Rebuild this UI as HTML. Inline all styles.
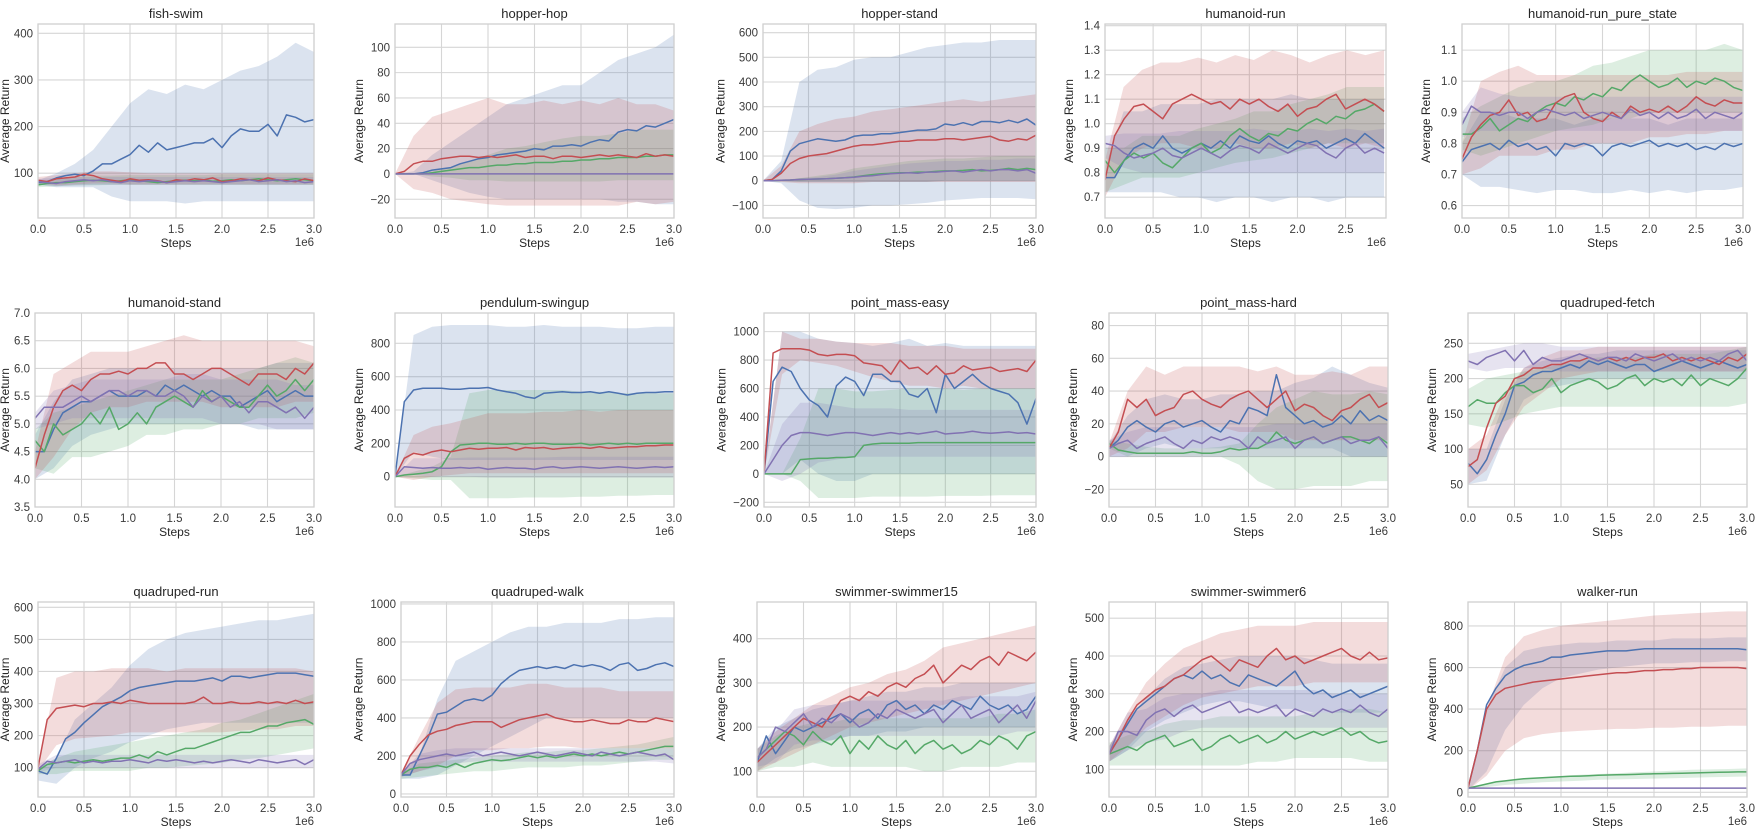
<!DOCTYPE html>
<html><head><meta charset="utf-8">
<style>
html,body{margin:0;padding:0;background:#fff;}
svg{display:block;font-family:"Liberation Sans",Arial,sans-serif;}
</style></head>
<body>
<svg id="fig" width="1758" height="830" viewBox="0 0 1758 830" xmlns="http://www.w3.org/2000/svg"></svg>
<script>
// ---------- shared tick data ----------
const xTickValues=[0,0.5,1.0,1.5,2.0,2.5,3.0];
const xTickLabels=['0.0','0.5','1.0','1.5','2.0','2.5','3.0'];

// ---------- fish-swim ----------
const fishYTicks=[100,200,300,400];
const fishBlue=[80,82,90,95,98,95,105,120,120,130,140,160,145,165,150,155,160,165,165,175,155,180,195,190,190,205,180,225,220,210,215];
const fishBlueLo=[75,70,70,70,50,40,40,40,35,40,40,40,40,40,40,40];
const fishBlueHi=[85,100,120,150,200,250,280,270,290,280,300,320,330,350,380,360];
const fishGreen=[75,78,80,80,82,84,85,84,82,84,86,84,82,80,82,84,85,84,86,83,84,86,84,86,88,86,84,86,88,86,84];
const fishGreenLo=[70,72,74,74,75,75,75,75,75,75,75,75,75,75,75,75];
const fishGreenHi=[82,88,92,95,95,96,96,96,96,96,98,98,98,98,98,98];
const fishRed=[85,82,88,90,92,98,95,88,85,82,88,85,86,84,80,86,84,88,86,90,82,84,88,86,84,90,86,84,82,88,84];
const fishRedLo=[78,74,76,78,78,76,76,76,76,76,76,76,76,76,76,76];
const fishRedHi=[92,96,100,104,104,102,100,100,100,100,100,100,100,100,100,100];
const fishPurple=[82,80,78,82,84,86,84,86,82,80,84,82,84,83,80,82,84,82,84,82,80,82,84,86,82,84,86,82,84,80,82];
const fishPurpleLo=[76,72,74,75,75,75,75,75,75,75,75,75,75,75,75,75];
const fishPurpleHi=[88,90,92,92,92,92,92,92,92,92,92,92,92,92,92,92];

// ---------- hopper-hop ----------
const hopYTicks=[-20,0,20,40,60,80,100];
const hopBlue=[0,0,0,1,3,4,5,8,10,12,13,15,16,17,18,20,19,22,22,23,22,25,27,26,33,35,34,38,37,40,43];
const hopBlueLo=[0,0,-5,-10,-15,-18,-20,-20,-20,-20,-20,-20,-22,-22,-24,-24];
const hopBlueHi=[0,2,15,25,35,45,55,60,65,70,70,80,90,95,100,110];
const hopGreen=[0,0,0,0,1,2,3,4,5,5,6,7,7,8,8,9,9,9,10,10,11,11,12,12,13,13,13,14,14,15,15];
const hopGreenLo=[0,0,-2,-3,-5,-5,-6,-6,-6,-6,-6,-6,-5,-5,-5,-5];
const hopGreenHi=[0,0,2,5,10,15,20,22,25,28,30,30,32,35,35,35];
const hopRed=[0,2,8,10,10,12,13,14,14,13,14,13,14,15,13,14,14,12,14,14,13,14,15,14,15,14,13,16,14,15,14];
const hopRedLo=[0,-12,-15,-20,-22,-24,-25,-25,-25,-25,-25,-25,-25,-22,-24,-22];
const hopRedHi=[0,30,45,50,55,60,55,55,58,55,58,55,60,55,55,50];
const hopPurple=[0,0,0,0,0,0,0,0,0,0,0,0,0,0,0,0,0,0,0,0,0,0,0,0,0,0,0,0,0,0,0];
const hopPurpleLo=[0,0,0,0,0,0,0,0,0,0,0,0,0,0,0,0];
const hopPurpleHi=[0,0,0,0,0,0,0,0,0,0,0,0,0,0,0,0];

// ---------- hopper-stand ----------
const standYTicks=[-100,0,100,200,300,400,500,600];
const standBlue=[0,5,40,120,150,160,170,165,160,165,180,185,185,190,190,195,200,205,205,210,230,225,235,225,240,240,235,245,235,250,225];
const standBlueLo=[0,-10,-80,-110,-115,-110,-100,-100,-95,-90,-80,-75,-70,-70,-70,-75];
const standBlueHi=[0,80,400,450,460,490,500,500,520,540,550,560,560,570,570,570];
const standGreen=[0,0,2,3,5,6,7,8,10,12,15,20,25,28,30,32,32,35,35,38,40,40,42,45,40,42,45,50,45,50,45];
const standGreenLo=[0,-2,-5,-5,-5,-5,-5,-5,-5,-5,0,0,0,0,0,0];
const standGreenHi=[0,2,10,20,30,50,60,70,80,85,90,90,95,100,100,100];
const standRed=[0,5,30,70,90,100,105,110,120,130,140,145,145,150,155,160,160,165,165,165,170,170,165,170,175,180,165,160,170,165,185];
const standRedLo=[0,-5,-10,-10,-10,-10,-5,-5,-5,-5,-5,-5,-5,-5,-5,-5];
const standRedHi=[0,60,200,230,250,260,280,290,300,310,320,330,320,330,340,350];
const standPurple=[0,0,2,3,5,6,7,8,10,12,14,18,20,25,28,30,32,30,35,35,38,40,35,40,45,40,45,45,40,45,30];
const standPurpleLo=[0,-2,-5,-5,-5,-5,-5,-5,-5,-5,0,0,0,0,0,0];
const standPurpleHi=[0,2,10,15,25,40,50,60,70,75,80,80,85,85,90,90];

// ---------- humanoid-run ----------
const hrunYTicks=[0.7,0.8,0.9,1.0,1.1,1.2,1.3,1.4];
const hrunBlue=[0.78,0.78,0.85,0.90,0.92,0.90,0.95,0.90,0.88,0.90,0.92,0.90,0.93,0.90,0.95,0.93,0.92,0.95,0.92,0.90,0.93,0.92,0.93,0.90,0.92,0.94,0.92,0.96,0.93,0.90];
const hrunBlueLo=[0.72,0.72,0.72,0.72,0.70,0.70,0.68,0.70,0.70,0.68,0.70,0.70,0.68,0.70,0.70,0.70];
const hrunBlueHi=[0.82,1.05,1.05,1.08,1.08,1.08,1.10,1.10,1.10,1.10,1.12,1.10,1.10,1.10,1.10,1.10];
const hrunGreen=[0.85,0.80,0.85,0.88,0.86,0.88,0.84,0.82,0.86,0.90,0.92,0.88,0.90,0.95,0.98,0.95,0.93,0.96,0.95,0.98,0.97,1.00,1.02,1.00,1.03,1.02,1.05,1.06,1.08,1.05];
const hrunGreenLo=[0.72,0.75,0.78,0.78,0.78,0.80,0.82,0.84,0.85,0.86,0.88,0.90,0.92,0.92,0.92,0.92];
const hrunGreenHi=[0.90,0.90,0.95,0.95,0.95,0.98,1.00,1.02,1.05,1.05,1.08,1.10,1.12,1.15,1.15,1.15];
const hrunRed=[0.77,0.95,1.02,1.07,1.08,1.05,1.02,1.08,1.10,1.12,1.10,1.08,1.09,1.06,1.10,1.08,1.10,1.07,1.05,1.08,1.03,1.06,1.07,1.10,1.12,1.06,1.08,1.10,1.08,1.05];
const hrunRedLo=[0.70,0.85,0.90,0.92,0.92,0.90,0.90,0.92,0.90,0.90,0.92,0.90,0.92,0.90,0.92,0.90];
const hrunRedHi=[0.85,1.15,1.22,1.25,1.25,1.27,1.25,1.28,1.26,1.30,1.28,1.25,1.28,1.30,1.28,1.30];
const hrunPurple=[0.92,0.91,0.88,0.86,0.87,0.88,0.90,0.87,0.86,0.88,0.90,0.88,0.86,0.89,0.91,0.90,0.88,0.92,0.90,0.88,0.90,0.92,0.91,0.88,0.86,0.90,0.92,0.88,0.90,0.88];
const hrunPurpleLo=[0.86,0.82,0.80,0.80,0.80,0.80,0.80,0.80,0.80,0.80,0.80,0.80,0.80,0.80,0.80,0.80];
const hrunPurpleHi=[0.95,0.96,0.96,0.96,0.97,0.97,0.97,0.97,0.98,0.97,0.97,0.98,0.97,0.98,0.97,0.98];

// ---------- humanoid-run_pure_state ----------
const hpureYTicks=[0.6,0.7,0.8,0.9,1.0,1.1];
const hpureBlue=[0.74,0.78,0.79,0.80,0.78,0.81,0.79,0.80,0.78,0.79,0.76,0.80,0.79,0.80,0.79,0.76,0.79,0.80,0.79,0.80,0.81,0.79,0.80,0.79,0.80,0.78,0.79,0.78,0.80,0.79,0.80];
const hpureBlueLo=[0.70,0.66,0.66,0.65,0.64,0.65,0.65,0.64,0.64,0.65,0.64,0.65,0.64,0.65,0.65,0.66];
const hpureBlueHi=[0.80,0.90,0.90,0.88,0.88,0.88,0.86,0.88,0.88,0.88,0.88,0.86,0.88,0.88,0.88,0.88];
const hpureGreen=[0.83,0.83,0.85,0.88,0.84,0.86,0.88,0.87,0.90,0.92,0.93,0.92,0.95,0.94,0.96,0.95,0.98,0.97,1.00,1.02,1.00,0.98,0.99,1.01,0.98,1.00,0.99,1.01,1.00,0.98,0.97];
const hpureGreenLo=[0.78,0.76,0.78,0.80,0.82,0.84,0.85,0.86,0.88,0.88,0.90,0.90,0.90,0.90,0.90,0.90];
const hpureGreenHi=[0.88,0.92,0.95,0.98,1.00,1.00,1.02,1.05,1.06,1.08,1.10,1.10,1.10,1.10,1.12,1.10];
const hpureRed=[0.75,0.82,0.86,0.89,0.90,0.94,0.89,0.90,0.87,0.88,0.93,0.95,0.96,0.90,0.88,0.87,0.90,0.88,0.92,0.90,0.91,0.90,0.92,0.90,0.92,0.95,0.93,0.92,0.94,0.93,0.93];
const hpureRedLo=[0.70,0.72,0.76,0.76,0.76,0.78,0.78,0.80,0.80,0.80,0.82,0.82,0.83,0.83,0.84,0.84];
const hpureRedHi=[0.80,1.00,1.03,1.05,1.02,1.02,1.02,1.02,1.02,1.02,1.02,1.02,1.03,1.03,1.03,1.03];
const hpurePurple=[0.86,0.92,0.90,0.90,0.89,0.90,0.90,0.88,0.90,0.91,0.90,0.89,0.90,0.88,0.89,0.90,0.89,0.88,0.91,0.89,0.90,0.88,0.90,0.88,0.89,0.91,0.88,0.90,0.89,0.88,0.90];
const hpurePurpleLo=[0.82,0.84,0.84,0.84,0.84,0.84,0.84,0.84,0.84,0.84,0.84,0.84,0.84,0.84,0.84,0.84];
const hpurePurpleHi=[0.90,0.98,0.96,0.95,0.95,0.95,0.95,0.95,0.95,0.95,0.95,0.95,0.95,0.95,0.95,0.95];

// ---------- humanoid-stand ----------
const hstandYTicks=[3.5,4.0,4.5,5.0,5.5,6.0,6.5,7.0];
const hstandBlue=[4.5,4.5,4.9,5.2,5.3,5.4,5.4,5.5,5.6,5.5,5.5,5.5,5.6,5.5,5.7,5.6,5.7,5.6,5.5,5.6,5.5,5.5,5.3,5.4,5.5,5.6,5.4,5.5,5.6,5.5,5.5];
const hstandBlueLo=[4.0,4.2,4.6,4.8,4.9,5.0,5.0,5.0,5.0,5.0,5.0,5.0,4.9,4.9,4.9,4.9];
const hstandBlueHi=[4.8,5.4,5.8,5.9,6.0,6.0,6.0,6.0,6.0,6.0,6.0,6.0,6.0,6.1,6.1,6.1];
const hstandGreen=[4.7,4.5,5.0,4.8,4.9,5.0,5.2,5.0,5.3,4.9,5.0,5.2,5.0,5.3,5.4,5.5,5.4,5.3,5.6,5.4,5.5,5.4,5.3,5.3,5.5,5.7,5.5,5.6,5.8,5.6,5.8];
const hstandGreenLo=[4.2,4.1,4.4,4.4,4.5,4.6,4.8,4.8,4.9,4.9,5.0,5.0,5.1,5.1,5.1,5.2];
const hstandGreenHi=[4.9,5.2,5.3,5.4,5.5,5.6,5.7,5.8,5.8,5.8,5.8,5.9,6.0,6.1,6.2,6.1];
const hstandRed=[4.2,4.8,5.3,5.6,5.7,5.6,5.8,5.9,5.9,5.95,5.9,6.0,6.0,6.1,6.1,5.9,5.9,5.8,5.9,6.0,6.0,5.9,5.8,5.7,5.9,5.9,5.9,5.8,6.0,5.9,6.1];
const hstandRedLo=[4.0,4.4,4.9,5.2,5.3,5.3,5.4,5.4,5.4,5.4,5.3,5.3,5.3,5.3,5.4,5.4];
const hstandRedHi=[4.5,5.9,6.1,6.3,6.3,6.3,6.4,6.5,6.6,6.5,6.5,6.5,6.5,6.5,6.5,6.4];
const hstandPurple=[5.1,5.3,5.3,5.3,5.4,5.5,5.4,5.5,5.6,5.6,5.5,5.6,5.6,5.5,5.5,5.6,5.5,5.3,5.5,5.4,5.5,5.3,5.4,5.2,5.4,5.4,5.3,5.2,5.3,5.1,5.3];
const hstandPurpleLo=[4.9,5.0,5.1,5.1,5.1,5.1,5.1,5.1,5.1,5.1,5.0,5.0,5.0,4.9,4.9,4.9];
const hstandPurpleHi=[5.2,5.6,5.7,5.8,5.8,5.8,5.8,5.8,5.9,5.9,5.8,5.8,5.8,5.8,5.7,5.7];

// ---------- pendulum-swingup ----------
const pendYTicks=[0,200,400,600,800];
const pendBlue=[0,450,520,530,530,530,525,525,530,530,535,520,510,500,480,470,500,505,510,505,505,510,500,510,500,490,500,505,505,510,510];
const pendBlueLo=[0,150,120,100,100,100,100,100,100,100,100,100,100,100,100,100];
const pendBlueHi=[0,850,900,910,910,910,900,900,910,900,900,900,890,890,900,900];
const pendGreen=[0,10,15,20,30,60,150,190,195,200,200,195,195,200,195,200,200,195,195,195,200,190,195,200,195,200,195,200,200,200,200];
const pendGreenLo=[0,-10,-20,-20,-130,-130,-130,-125,-125,-125,-120,-120,-115,-115,-110,-110];
const pendGreenHi=[0,30,60,120,500,520,520,520,520,520,510,510,500,500,500,500];
const pendRed=[0,110,140,130,150,160,150,160,170,165,170,170,175,160,175,170,175,165,170,175,175,170,180,170,175,180,180,185,185,190,190];
const pendRedLo=[0,-20,0,10,20,20,20,20,20,20,20,20,20,20,20,20];
const pendRedHi=[0,250,300,320,350,380,380,380,390,390,400,390,400,400,400,400];
const pendPurple=[0,60,55,50,55,50,50,55,50,55,45,50,55,50,50,45,55,60,50,55,60,55,50,55,60,55,50,55,60,55,60];
const pendPurpleLo=[0,10,0,0,0,-5,-5,-5,-5,-5,-5,-5,-5,-5,-5,-5];
const pendPurpleHi=[0,110,110,110,115,115,115,115,115,120,120,120,120,120,120,120];

// ---------- point_mass-easy ----------
const pmEasyYTicks=[-200,0,200,400,600,800,1000];
const pmEasyBlue=[0,650,750,720,600,520,480,400,620,680,650,550,700,700,650,650,560,540,600,430,700,600,650,700,640,600,580,560,500,350,530];
const pmEasyBlueLo=[0,0,100,0,-50,-50,0,0,0,0,0,0,0,0,0,0];
const pmEasyBlueHi=[0,1000,1000,950,930,920,900,920,950,900,920,900,900,900,900,900];
const pmEasyGreen=[0,0,0,0,100,105,110,110,115,115,120,200,210,215,215,215,215,220,220,220,220,220,220,220,220,220,220,220,220,220,220];
const pmEasyGreenLo=[0,0,-50,-170,-170,-170,-160,-160,-160,-160,-155,-155,-155,-150,-150,-150];
const pmEasyGreenHi=[0,0,250,600,600,580,580,590,600,600,600,590,600,600,600,600];
const pmEasyRed=[0,850,880,880,880,870,840,830,840,840,830,780,770,760,700,800,740,750,700,760,700,710,760,730,740,750,720,730,740,720,800];
const pmEasyRedLo=[0,700,800,780,760,720,680,650,620,620,600,620,600,600,600,600];
const pmEasyRedHi=[0,1000,950,950,930,920,920,920,900,900,900,880,880,880,880,880];
const pmEasyPurple=[0,100,200,270,290,290,280,270,280,290,290,280,270,280,290,280,290,280,290,300,280,285,290,300,290,285,290,295,285,290,280];
const pmEasyPurpleLo=[0,-50,0,80,100,120,120,120,120,120,120,120,120,120,120,120];
const pmEasyPurpleHi=[0,350,500,500,480,460,460,460,450,450,450,450,450,450,450,450];

// ---------- point_mass-hard ----------
const pmHardYTicks=[-20,0,20,40,60,80];
const pmHardBlue=[5,10,18,22,18,15,20,22,18,20,22,18,15,22,20,30,28,25,50,30,25,20,22,18,20,25,20,28,22,25,22];
const pmHardBlueLo=[0,0,5,8,5,5,5,5,5,5,5,5,5,0,0,0];
const pmHardBlueHi=[8,25,35,38,35,35,38,38,40,40,45,48,55,50,45,42];
const pmHardGreen=[8,4,3,2,2,2,2,2,2,3,2,2,3,5,4,5,5,8,15,10,8,10,12,8,10,12,12,10,8,12,8];
const pmHardGreenLo=[5,0,0,0,0,0,0,-5,-15,-20,-20,-18,-18,-18,-15,-15];
const pmHardGreenHi=[10,8,6,5,5,5,6,8,20,30,35,40,38,38,40,38];
const pmHardRed=[5,15,35,30,35,25,28,30,38,40,35,32,30,35,38,40,35,30,35,40,28,32,30,25,22,28,30,35,38,30,33];
const pmHardRedLo=[0,5,15,15,18,18,18,15,15,15,10,10,10,10,10,10];
const pmHardRedHi=[8,40,55,50,55,55,55,55,52,55,50,50,52,50,55,55];
const pmHardPurple=[5,8,10,5,8,10,12,8,5,10,8,12,10,12,10,5,12,8,10,12,5,10,12,8,10,12,8,10,10,12,5];
const pmHardPurpleLo=[0,0,0,0,0,0,0,0,0,0,0,0,0,0,0,0];
const pmHardPurpleHi=[10,15,18,18,18,18,18,18,18,20,20,20,20,20,20,20];

// ---------- quadruped-fetch ----------
const qFetchYTicks=[50,100,150,200,250];
const qFetchBlue=[80,65,85,120,150,190,195,205,210,210,215,220,215,225,220,225,220,215,220,220,210,215,220,225,220,215,220,225,220,215,220];
const qFetchBlueLo=[50,55,120,170,185,190,195,200,200,200,200,200,200,200,200,200];
const qFetchBlueHi=[100,100,170,215,225,230,235,235,240,240,240,240,240,240,240,240];
const qFetchGreen=[160,170,165,165,180,190,190,180,185,200,180,190,195,200,195,185,190,200,205,190,200,195,200,190,205,190,200,195,190,200,215];
const qFetchGreenLo=[135,130,140,150,155,160,160,160,160,160,160,160,160,160,160,165];
const qFetchGreenHi=[185,200,205,210,215,220,225,230,230,230,235,235,235,235,240,245];
const qFetchRed=[75,85,130,165,175,200,205,215,215,220,220,225,225,230,225,230,225,230,225,230,230,235,225,230,225,230,225,220,230,225,235];
const qFetchRedLo=[50,70,120,160,180,200,205,210,210,210,210,210,210,210,210,210];
const qFetchRedHi=[100,120,180,215,230,240,240,245,245,245,245,245,245,245,245,245];
const qFetchPurple=[225,220,230,235,240,225,240,220,230,225,225,230,235,230,225,230,230,225,235,230,225,230,235,225,230,225,230,225,235,240,225];
const qFetchPurpleLo=[215,210,215,215,215,210,210,210,210,210,210,210,210,210,210,210];
const qFetchPurpleHi=[235,240,245,250,250,245,245,245,245,245,245,245,245,245,245,245];

// ---------- quadruped-run ----------
const qRunYTicks=[100,200,300,400,500,600];
const qRunBlue=[90,80,130,190,210,240,265,290,305,320,340,350,355,360,365,370,370,370,375,380,370,385,385,380,385,390,395,395,395,390,385];
const qRunBlueLo=[60,50,100,130,150,180,200,220,230,240,240,240,240,240,240,240];
const qRunBlueHi=[100,130,250,300,350,420,470,500,520,530,540,550,560,560,570,580];
const qRunGreen=[90,110,115,120,115,120,125,120,125,130,130,140,130,150,140,150,160,160,170,180,190,200,210,210,220,230,230,240,245,250,235];
const qRunGreenLo=[80,80,90,90,90,90,100,100,105,110,115,125,130,140,150,160];
const qRunGreenHi=[100,130,150,160,170,180,190,200,210,220,240,250,270,290,310,330];
const qRunRed=[100,250,285,290,295,290,300,300,305,300,310,305,300,300,300,300,300,305,320,300,300,305,300,300,305,300,305,300,310,300,305];
const qRunRedLo=[90,170,190,195,200,210,210,210,210,210,210,215,220,220,230,230];
const qRunRedHi=[100,380,400,400,410,410,410,400,410,410,410,410,410,410,410,400];
const qRunPurple=[95,120,115,120,125,115,120,115,120,120,125,120,115,125,120,125,120,115,120,115,120,125,120,115,125,120,115,120,125,110,125];
const qRunPurpleLo=[85,100,100,100,100,100,100,100,100,100,100,100,100,100,100,100];
const qRunPurpleHi=[110,140,140,140,140,140,140,140,140,140,140,140,140,140,140,140];

// ---------- quadruped-walk ----------
const qWalkYTicks=[0,200,400,600,800,1000];
const qWalkBlue=[100,100,200,300,420,430,460,490,500,490,520,580,620,650,660,670,660,670,660,680,670,680,670,650,680,690,650,660,680,690,670];
const qWalkBlueLo=[80,80,100,150,200,250,300,350,400,400,400,400,400,400,400,400];
const qWalkBlueHi=[100,200,500,700,750,800,850,880,880,900,900,900,920,920,930,930];
const qWalkGreen=[100,130,140,140,150,140,160,140,160,170,180,175,180,190,200,190,200,190,200,210,200,210,200,210,220,210,220,230,240,250,250];
const qWalkGreenLo=[80,90,100,110,120,120,130,140,140,140,150,150,160,170,180,180];
const qWalkGreenHi=[110,160,170,180,190,200,210,220,220,230,230,240,250,260,280,300];
const qWalkRed=[100,200,260,310,330,340,360,370,380,380,380,350,370,390,400,410,420,400,390,380,380,390,380,370,370,390,380,380,400,390,380];
const qWalkRedLo=[90,120,150,200,230,230,240,240,250,250,240,240,240,240,240,240];
const qWalkRedHi=[110,300,480,550,560,560,560,580,580,560,560,560,540,540,540,540];
const qWalkPurple=[100,160,180,190,200,210,200,210,220,200,210,220,210,200,210,220,210,200,210,220,210,200,220,210,200,210,220,210,200,210,180];
const qWalkPurpleLo=[90,120,140,160,170,170,170,170,170,170,170,170,170,170,170,160];
const qWalkPurpleHi=[110,210,230,240,240,240,240,240,240,240,240,240,240,240,240,240];

// ---------- swimmer-swimmer15 ----------
const sw15YTicks=[100,200,300,400];
const sw15Blue=[120,180,140,170,200,190,200,210,220,230,210,230,240,220,250,260,240,250,230,250,240,260,250,240,270,250,240,250,230,240,270];
const sw15BlueLo=[100,130,150,160,170,180,180,190,190,200,200,200,200,200,200,200];
const sw15BlueHi=[150,200,220,240,250,260,270,280,280,290,290,300,300,300,300,300];
const sw15Green=[130,150,170,190,180,160,190,170,160,180,140,170,150,180,160,150,170,140,160,170,150,160,140,150,170,160,180,170,150,180,190];
const sw15GreenLo=[100,110,110,120,110,110,110,110,110,100,100,110,110,110,120,120];
const sw15GreenHi=[150,180,200,210,210,220,220,220,220,220,220,220,220,230,230,240];
const sw15Red=[120,140,160,180,200,220,210,200,230,260,270,260,280,270,290,300,290,310,320,340,300,320,340,330,350,360,340,370,360,350,370];
const sw15RedLo=[100,120,140,160,180,200,210,220,230,240,250,260,270,280,290,300];
const sw15RedHi=[150,190,220,250,270,290,300,320,330,350,380,390,400,410,420,430];
const sw15Purple=[130,150,200,190,210,230,200,220,210,230,220,200,210,230,220,240,230,220,230,240,210,230,250,220,230,240,210,230,250,220,260];
const sw15PurpleLo=[110,120,160,170,170,180,180,180,180,180,180,180,180,180,190,190];
const sw15PurpleHi=[150,190,240,250,250,260,260,260,260,260,260,270,270,270,270,280];

// ---------- swimmer-swimmer6 ----------
const sw6YTicks=[100,200,300,400,500];
const sw6Blue=[140,180,220,260,280,300,320,340,350,340,360,340,350,330,320,350,340,330,320,340,360,320,300,310,290,300,310,290,300,310,320];
const sw6BlueLo=[120,150,200,230,250,270,280,280,270,260,260,250,250,250,250,250];
const sw6BlueHi=[160,230,290,340,370,380,390,400,400,400,400,390,380,380,380,380];
const sw6Green=[140,150,160,150,170,180,190,160,170,180,150,160,180,190,170,180,190,170,180,200,180,190,200,190,200,210,190,200,180,170,175];
const sw6GreenLo=[110,110,110,110,110,110,110,110,120,120,130,130,130,130,120,120];
const sw6GreenHi=[170,190,200,220,230,230,240,240,240,240,240,250,250,260,260,250];
const sw6Red=[140,180,230,270,290,310,320,340,350,370,390,400,380,360,390,380,370,400,420,390,400,380,390,400,410,420,400,390,410,390,395];
const sw6RedLo=[120,160,210,240,270,290,300,310,320,320,320,330,330,330,330,330];
const sw6RedHi=[160,250,330,380,420,440,460,470,480,480,480,490,490,490,490,490];
const sw6Purple=[140,200,200,190,230,250,260,240,260,270,250,260,270,280,250,260,250,260,270,240,260,250,240,260,250,260,250,270,250,240,260];
const sw6PurpleLo=[120,150,170,180,200,210,210,210,210,210,210,210,210,210,210,210];
const sw6PurpleHi=[160,250,260,290,300,300,310,310,310,310,310,310,300,300,300,300];

// ---------- walker-run ----------
const wRunYTicks=[0,200,400,600,800];
const wRunBlue=[20,200,420,500,560,590,610,620,630,650,650,660,665,670,675,680,680,680,685,690,690,690,690,690,690,690,690,690,690,690,685];
const wRunBlueLo=[10,100,300,420,500,550,570,590,600,610,620,620,625,625,630,630];
const wRunBlueHi=[30,400,600,680,700,710,720,720,730,730,730,740,740,740,745,745];
const wRunGreen=[20,30,40,50,55,60,65,68,70,72,75,77,78,80,82,83,84,85,86,88,89,90,91,92,93,94,95,96,97,98,98];
const wRunGreenLo=[15,25,35,42,48,52,56,60,62,64,66,68,70,72,74,76];
const wRunGreenHi=[25,40,55,65,72,78,84,88,92,96,100,104,108,110,112,115];
const wRunRed=[20,200,400,470,500,510,520,530,535,540,545,550,555,560,565,570,575,575,580,585,585,590,590,595,595,600,600,600,600,600,595];
const wRunRedLo=[10,80,200,260,280,290,295,300,305,305,310,310,315,315,320,320];
const wRunRedHi=[30,400,650,750,780,800,810,820,830,840,850,855,860,865,870,870];
const wRunPurple=[20,20,20,20,20,20,20,20,20,20,20,20,20,20,20,20,20,20,20,20,20,20,20,20,20,20,20,20,20,20,20];
const wRunPurpleLo=[17,17,17,17,17,17,17,17,17,17,17,17,17,17,17,17];
const wRunPurpleHi=[23,23,23,23,23,23,23,23,23,23,23,23,23,23,23,23];

// ---------- layout (not data) ----------
const ROWS=[[24,218],[313,507],[602,797]];
const STEP=0.1;
const COLORS={Blue:'#4c72b0',Green:'#55a868',Red:'#c44e52',Purple:'#8172b2'};
const ORDER=['Blue','Green','Red','Purple'];
const panels=[
 {id:'fish',title:'fish-swim',row:0,x0:38,x1:314,ymin:4,ymax:420,xmax:3.0,dec:0,yt:fishYTicks,
  s:{Blue:[fishBlue,fishBlueLo,fishBlueHi],Green:[fishGreen,fishGreenLo,fishGreenHi],Red:[fishRed,fishRedLo,fishRedHi],Purple:[fishPurple,fishPurpleLo,fishPurpleHi]}},
 {id:'hop',title:'hopper-hop',row:0,x0:395,x1:674,ymin:-34.8,ymax:118.4,xmax:3.0,dec:0,yt:hopYTicks,
  s:{Blue:[hopBlue,hopBlueLo,hopBlueHi],Green:[hopGreen,hopGreenLo,hopGreenHi],Red:[hopRed,hopRedLo,hopRedHi],Purple:[hopPurple,hopPurpleLo,hopPurpleHi]}},
 {id:'stand',title:'hopper-stand',row:0,x0:763,x1:1036,ymin:-151,ymax:635,xmax:3.0,dec:0,yt:standYTicks,
  s:{Blue:[standBlue,standBlueLo,standBlueHi],Green:[standGreen,standGreenLo,standGreenHi],Red:[standRed,standRedLo,standRedHi],Purple:[standPurple,standPurpleLo,standPurpleHi]}},
 {id:'hrun',title:'humanoid-run',row:0,x0:1105,x1:1386,ymin:0.615,ymax:1.407,xmax:2.92,dec:1,yt:hrunYTicks,
  s:{Blue:[hrunBlue,hrunBlueLo,hrunBlueHi],Green:[hrunGreen,hrunGreenLo,hrunGreenHi],Red:[hrunRed,hrunRedLo,hrunRedHi],Purple:[hrunPurple,hrunPurpleLo,hrunPurpleHi]}},
 {id:'hpure',title:'humanoid-run_pure_state',row:0,x0:1462,x1:1743,ymin:0.56,ymax:1.184,xmax:3.0,dec:1,yt:hpureYTicks,
  s:{Blue:[hpureBlue,hpureBlueLo,hpureBlueHi],Green:[hpureGreen,hpureGreenLo,hpureGreenHi],Red:[hpureRed,hpureRedLo,hpureRedHi],Purple:[hpurePurple,hpurePurpleLo,hpurePurpleHi]}},
 {id:'hstand',title:'humanoid-stand',row:1,x0:35,x1:314,ymin:3.5,ymax:7.0,xmax:3.0,dec:1,yt:hstandYTicks,
  s:{Blue:[hstandBlue,hstandBlueLo,hstandBlueHi],Green:[hstandGreen,hstandGreenLo,hstandGreenHi],Red:[hstandRed,hstandRedLo,hstandRedHi],Purple:[hstandPurple,hstandPurpleLo,hstandPurpleHi]}},
 {id:'pend',title:'pendulum-swingup',row:1,x0:395,x1:674,ymin:-182,ymax:982,xmax:3.0,dec:0,yt:pendYTicks,
  s:{Blue:[pendBlue,pendBlueLo,pendBlueHi],Green:[pendGreen,pendGreenLo,pendGreenHi],Red:[pendRed,pendRedLo,pendRedHi],Purple:[pendPurple,pendPurpleLo,pendPurpleHi]}},
 {id:'pmEasy',title:'point_mass-easy',row:1,x0:764,x1:1036,ymin:-233,ymax:1131,xmax:3.0,dec:0,yt:pmEasyYTicks,
  s:{Blue:[pmEasyBlue,pmEasyBlueLo,pmEasyBlueHi],Green:[pmEasyGreen,pmEasyGreenLo,pmEasyGreenHi],Red:[pmEasyRed,pmEasyRedLo,pmEasyRedHi],Purple:[pmEasyPurple,pmEasyPurpleLo,pmEasyPurpleHi]}},
 {id:'pmHard',title:'point_mass-hard',row:1,x0:1109,x1:1388,ymin:-30.8,ymax:87.7,xmax:3.0,dec:0,yt:pmHardYTicks,
  s:{Blue:[pmHardBlue,pmHardBlueLo,pmHardBlueHi],Green:[pmHardGreen,pmHardGreenLo,pmHardGreenHi],Red:[pmHardRed,pmHardRedLo,pmHardRedHi],Purple:[pmHardPurple,pmHardPurpleLo,pmHardPurpleHi]}},
 {id:'qFetch',title:'quadruped-fetch',row:1,x0:1468,x1:1747,ymin:17.8,ymax:293,xmax:3.0,dec:0,yt:qFetchYTicks,
  s:{Blue:[qFetchBlue,qFetchBlueLo,qFetchBlueHi],Green:[qFetchGreen,qFetchGreenLo,qFetchGreenHi],Red:[qFetchRed,qFetchRedLo,qFetchRedHi],Purple:[qFetchPurple,qFetchPurpleLo,qFetchPurpleHi]}},
 {id:'qRun',title:'quadruped-run',row:2,x0:38,x1:314,ymin:8.6,ymax:616.6,xmax:3.0,dec:0,yt:qRunYTicks,
  s:{Blue:[qRunBlue,qRunBlueLo,qRunBlueHi],Green:[qRunGreen,qRunGreenLo,qRunGreenHi],Red:[qRunRed,qRunRedLo,qRunRedHi],Purple:[qRunPurple,qRunPurpleLo,qRunPurpleHi]}},
 {id:'qWalk',title:'quadruped-walk',row:2,x0:401,x1:674,ymin:-16,ymax:1010,xmax:3.0,dec:0,yt:qWalkYTicks,
  s:{Blue:[qWalkBlue,qWalkBlueLo,qWalkBlueHi],Green:[qWalkGreen,qWalkGreenLo,qWalkGreenHi],Red:[qWalkRed,qWalkRedLo,qWalkRedHi],Purple:[qWalkPurple,qWalkPurpleLo,qWalkPurpleHi]}},
 {id:'sw15',title:'swimmer-swimmer15',row:2,x0:757,x1:1036,ymin:41.9,ymax:483,xmax:3.0,dec:0,yt:sw15YTicks,
  s:{Blue:[sw15Blue,sw15BlueLo,sw15BlueHi],Green:[sw15Green,sw15GreenLo,sw15GreenHi],Red:[sw15Red,sw15RedLo,sw15RedHi],Purple:[sw15Purple,sw15PurpleLo,sw15PurpleHi]}},
 {id:'sw6',title:'swimmer-swimmer6',row:2,x0:1109,x1:1388,ymin:26.6,ymax:543,xmax:3.0,dec:0,yt:sw6YTicks,
  s:{Blue:[sw6Blue,sw6BlueLo,sw6BlueHi],Green:[sw6Green,sw6GreenLo,sw6GreenHi],Red:[sw6Red,sw6RedLo,sw6RedHi],Purple:[sw6Purple,sw6PurpleLo,sw6PurpleHi]}},
 {id:'wRun',title:'walker-run',row:2,x0:1468,x1:1747,ymin:-22.6,ymax:915,xmax:3.0,dec:0,yt:wRunYTicks,
  s:{Blue:[wRunBlue,wRunBlueLo,wRunBlueHi],Green:[wRunGreen,wRunGreenLo,wRunGreenHi],Red:[wRunRed,wRunRedLo,wRunRedHi],Purple:[wRunPurple,wRunPurpleLo,wRunPurpleHi]}}
];

const NS='http://www.w3.org/2000/svg';
const svg=document.getElementById('fig');
function mk(tag,attrs,parent){const e=document.createElementNS(NS,tag);for(const k in attrs)e.setAttribute(k,attrs[k]);(parent||svg).appendChild(e);return e;}
function fmt(v,dec){const s=Math.abs(v).toFixed(dec);return v<0?'\u2212'+s:s;}
const defs=mk('defs',{});

panels.forEach(p=>{
  const top=ROWS[p.row][0],bot=ROWS[p.row][1];
  const sx=v=>p.x0+(v/p.xmax)*(p.x1-p.x0);
  const sy=v=>bot-(v-p.ymin)/(p.ymax-p.ymin)*(bot-top);
  const g=mk('g',{});
  
  
  const cp=mk('clipPath',{id:'clip-'+p.id},defs);
  mk('rect',{x:p.x0,y:top,width:p.x1-p.x0,height:bot-top},cp);
  const bg=mk('rect',{x:p.x0,y:top,width:p.x1-p.x0,height:bot-top,fill:'#fff'},g);
  
  
  p.yt.forEach(v=>{
    const y=sy(v);
    const gl=mk('line',{x1:p.x0,x2:p.x1,y1:y,y2:y,stroke:'#d6d6d6','stroke-width':1.1},g);
    
    
    const t=mk('text',{x:p.x0-5,y:y+4,'text-anchor':'end','font-size':11.5,fill:'#3a3a3a'},g);
    t.textContent=fmt(v,p.dec);
    
    
  });
  xTickValues.forEach((v,i)=>{
    if(v>p.xmax+1e-9)return;
    const x=sx(v);
    const gl=mk('line',{x1:x,x2:x,y1:top,y2:bot,stroke:'#d6d6d6','stroke-width':1.1},g);
    
    
    const t=mk('text',{x:x,y:bot+15,'text-anchor':'middle','font-size':11.5,fill:'#3a3a3a'},g);
    t.textContent=xTickLabels[i];
    
    
  });
  const sg=mk('g',{'clip-path':'url(#clip-'+p.id+')'},g);
  ORDER.forEach(c=>{
    const [m,lo,hi]=p.s[c];
    const xend=(m.length-1)*STEP;
    const bx=i=>sx(i*xend/(lo.length-1));
    let d='M'+lo.map((v,i)=>bx(i).toFixed(1)+','+sy(v).toFixed(1)).join('L');
    for(let i=hi.length-1;i>=0;i--)d+='L'+bx(i).toFixed(1)+','+sy(hi[i]).toFixed(1);
    const band=mk('path',{d:d+'Z',fill:COLORS[c],'fill-opacity':0.2,stroke:'none'},sg);
    
    
  });
  ORDER.forEach(c=>{
    const m=p.s[c][0];
    const pts=m.map((v,i)=>sx(i*STEP).toFixed(1)+','+sy(v).toFixed(1)).join(' ');
    const ln=mk('polyline',{points:pts,fill:'none',stroke:COLORS[c],'stroke-width':1.5,'stroke-linejoin':'round'},sg);
    
    
  });
  const fr=mk('rect',{x:p.x0,y:top,width:p.x1-p.x0,height:bot-top,fill:'none',stroke:'#d0d0d0','stroke-width':1.3},g);
  
  
  const tt=mk('text',{x:(p.x0+p.x1)/2,y:top-6,'text-anchor':'middle','font-size':13,fill:'#262626'},g);
  tt.textContent=p.title;
  
  
  const xl=mk('text',{x:(p.x0+p.x1)/2,y:bot+29,'text-anchor':'middle','font-size':12,fill:'#262626'},g);
  xl.textContent='Steps';
  
  
  const ex=mk('text',{x:p.x1,y:bot+28,'text-anchor':'end','font-size':11.5,fill:'#3a3a3a'},g);
  ex.textContent='1e6';
  
  
  const maxc=Math.max(...p.yt.map(v=>fmt(v,p.dec).length));
  const lx=Math.max(9,p.x0-5-maxc*6.4-8);
  const yl=mk('text',{x:lx,y:(top+bot)/2,'text-anchor':'middle','font-size':12,fill:'#262626',transform:'rotate(-90 '+lx+' '+((top+bot)/2)+')'},g);
  yl.textContent='Average Return';
  
  
});
</script>
</body></html>
